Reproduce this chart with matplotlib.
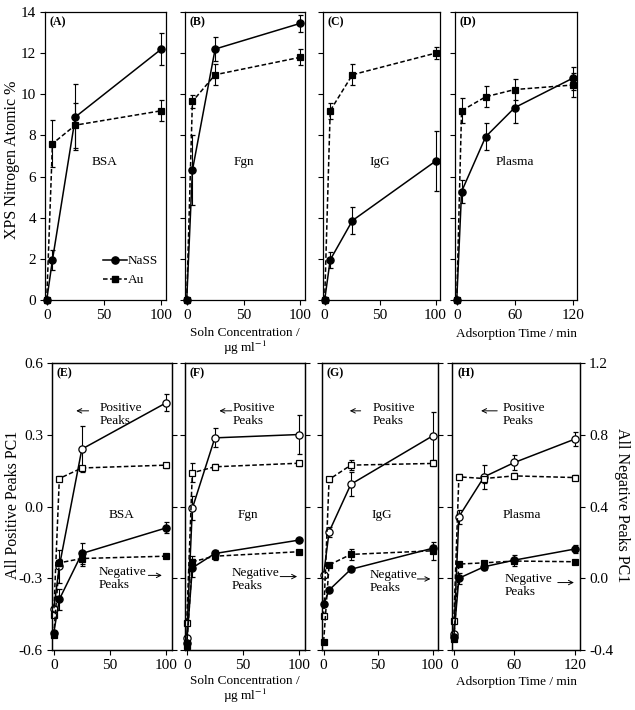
import matplotlib
matplotlib.use("Agg")
import matplotlib.pyplot as plt
from matplotlib.lines import Line2D

plt.rcParams['font.family'] = ['Liberation Serif', 'DejaVu Serif']
plt.rcParams['mathtext.fontset'] = 'stix'

# ---------------- data ----------------
conc = [0, 5, 25, 100]
time = [0, 5, 30, 60, 120]

# Top panels: XPS nitrogen atomic %
bsa_nass = [0, 1.95, 8.9, 12.2];   bsa_nass_err = [0, 0.5, 1.6, 0.8]
bsa_au = [0, 7.6, 8.5, 9.2];       bsa_au_err = [0, 1.15, 1.1, 0.5]
fgn_nass = [0, 6.3, 12.2, 13.45];  fgn_nass_err = [0, 1.7, 0.6, 0.4]
fgn_au = [0, 9.65, 10.95, 11.8];   fgn_au_err = [0, 0.3, 0.5, 0.4]
igg_nass = [0, 1.95, 3.86, 6.75];  igg_nass_err = [0, 0.4, 0.65, 1.45]
igg_au = [0, 9.2, 10.95, 12.0];    igg_au_err = [0, 0.4, 0.5, 0.3]
pla_nass = [0, 5.27, 7.94, 9.35, 10.78]; pla_nass_err = [0, 0.55, 0.65, 0.75, 0.55]
pla_au = [0, 9.2, 9.88, 10.23, 10.45];   pla_au_err = [0, 0.6, 0.5, 0.5, 0.6]

# Bottom panels: PC1 scores (positive peaks -> left axis, negative peaks -> right axis)
bsa_pos_nass = [-0.43, -0.25, 0.24, 0.434];   bsa_pos_nass_err = [0, 0.07, 0.096, 0.035]
bsa_pos_au = [-0.455, 0.117, 0.161, 0.173];   bsa_pos_au_err = [0, 0.01, 0.01, 0.01]
bsa_neg_nass = [-0.307, -0.118, 0.138, 0.281]; bsa_neg_nass_err = [0, 0.06, 0.06, 0.03]
bsa_neg_au = [-0.318, 0.086, 0.11, 0.123];    bsa_neg_au_err = [0, 0.02, 0.04, 0.01]

fgn_pos_nass = [-0.55, -0.008, 0.287, 0.301]; fgn_pos_nass_err = [0, 0.05, 0.04, 0.08]
fgn_pos_au = [-0.486, 0.141, 0.166, 0.181];   fgn_pos_au_err = [0, 0.04, 0.01, 0.01]
fgn_neg_nass = [-0.363, 0.058, 0.138, 0.213]; fgn_neg_nass_err = [0, 0.05, 0.02, 0.01]
fgn_neg_au = [-0.378, 0.092, 0.123, 0.148];   fgn_neg_au_err = [0, 0.03, 0.02, 0.01]

igg_pos_nass = [-0.285, -0.106, 0.093, 0.295]; igg_pos_nass_err = [0, 0.02, 0.05, 0.1]
igg_pos_au = [-0.458, 0.113, 0.173, 0.18];     igg_pos_au_err = [0, 0.01, 0.02, 0.01]
igg_neg_nass = [-0.145, -0.066, 0.05, 0.167];  igg_neg_nass_err = [0, 0.01, 0.01, 0.02]
igg_neg_au = [-0.353, 0.074, 0.133, 0.153];    igg_neg_au_err = [0, 0.01, 0.03, 0.05]

pla_pos_nass = [-0.535, -0.043, 0.124, 0.184, 0.282]; pla_pos_nass_err = [0, 0.03, 0.05, 0.03, 0.03]
pla_pos_au = [-0.479, 0.124, 0.117, 0.128, 0.121];    pla_pos_au_err = [0, 0.01, 0.02, 0.01, 0.01]
pla_neg_nass = [-0.326, 0.0, 0.064, 0.101, 0.163];    pla_neg_nass_err = [0, 0.03, 0.02, 0.03, 0.02]
pla_neg_au = [-0.34, 0.079, 0.086, 0.096, 0.092];     pla_neg_au_err = [0, 0.01, 0.01, 0.01, 0.01]

proteins = ['BSA', 'Fgn', 'IgG', 'Plasma']
top_letters = ['(A)', '(B)', '(C)', '(D)']
bot_letters = ['(E)', '(F)', '(G)', '(H)']

W, H = 635, 710
fig = plt.figure(figsize=(W / 100, H / 100), dpi=100)

def rect(l, r, t, b):
    return [l / W, 1 - b / H, (r - l) / W, (b - t) / H]

top_rects = [rect(45, 166, 12, 300), rect(185, 305, 12, 300),
             rect(323, 440, 12, 300), rect(455, 577, 12, 300)]
bot_rects = [rect(52, 172, 363, 650), rect(185, 305, 363, 650),
             rect(322, 438, 363, 650), rect(452, 580, 363, 650)]

TFS = 11     # tick labels
LFS = 11.5   # axis titles
AFS = 9.5    # annotations
lw = 1.1
MS = {'o': 5.2, 's': 4.5}
DASH = (0, (3, 1.6))

def style(ax):
    for s in ax.spines.values():
        s.set_linewidth(0.9)
    ax.tick_params(direction='out', length=3.5, width=0.8, labelsize=TFS, pad=3)

def series(ax, x, y, e, marker, ls, filled):
    ax.errorbar(x, y, yerr=e, color='black', lw=lw, ls=ls, marker=marker, ms=MS[marker],
                mfc='black' if filled else 'white', mec='black', mew=0.9,
                ecolor='black', elinewidth=0.8, capsize=1.8, capthick=0.8,
                clip_on=False, zorder=3)

ARROW = dict(arrowstyle='->', lw=0.7, color='black', shrinkA=0, shrinkB=0,
             mutation_scale=8)

top_data = [
    (conc, bsa_nass, bsa_nass_err, bsa_au, bsa_au_err),
    (conc, fgn_nass, fgn_nass_err, fgn_au, fgn_au_err),
    (conc, igg_nass, igg_nass_err, igg_au, igg_au_err),
    (time, pla_nass, pla_nass_err, pla_au, pla_au_err),
]
label_x = [50, 50, 50, 60]

for i, (x, yn, en, ya, ea) in enumerate(top_data):
    ax = fig.add_axes(top_rects[i])
    style(ax)
    series(ax, x, yn, en, 'o', '-', True)
    series(ax, x, ya, ea, 's', DASH, True)
    ax.set_ylim(0, 14)
    ax.set_yticks(range(0, 15, 2))
    if i < 3:
        ax.set_xlim(-1.5, 104)
        ax.set_xticks([0, 50, 100])
    else:
        ax.set_xlim(-1.8, 124.5)
        ax.set_xticks([0, 60, 120])
    if i > 0:
        ax.set_yticklabels([])
    ax.text(0.04, 0.985, top_letters[i], transform=ax.transAxes, ha='left', va='top',
            fontsize=8.5, fontweight='bold')
    ax.text(label_x[i], 6.7, proteins[i], ha='center', va='center', fontsize=AFS)
    if i == 0:
        hl = [Line2D([], [], color='black', lw=lw, marker='o', ms=MS['o']),
              Line2D([], [], color='black', lw=lw, ls=DASH, marker='s', ms=MS['s'])]
        ax.legend(hl, ['NaSS', 'Au'], loc='lower right', frameon=False, fontsize=AFS,
                  handlelength=1.8, handletextpad=0.1, borderaxespad=0.2,
                  labelspacing=0.5, bbox_to_anchor=(1.0, 0.02))

bot_data = [
    (conc, bsa_pos_nass, bsa_pos_nass_err, bsa_pos_au, bsa_pos_au_err,
     bsa_neg_nass, bsa_neg_nass_err, bsa_neg_au, bsa_neg_au_err),
    (conc, fgn_pos_nass, fgn_pos_nass_err, fgn_pos_au, fgn_pos_au_err,
     fgn_neg_nass, fgn_neg_nass_err, fgn_neg_au, fgn_neg_au_err),
    (conc, igg_pos_nass, igg_pos_nass_err, igg_pos_au, igg_pos_au_err,
     igg_neg_nass, igg_neg_nass_err, igg_neg_au, igg_neg_au_err),
    (time, pla_pos_nass, pla_pos_nass_err, pla_pos_au, pla_pos_au_err,
     pla_neg_nass, pla_neg_nass_err, pla_neg_au, pla_neg_au_err),
]
name_x = [60, 54, 53, 67]
pos_tx = [41, 41, 45, 48]
pos_arrow = [(31, 20), (40, 29), (34, 24), (43, 27)]
neg_tx = [40, 40, 42, 50]
neg_arrow = [(84, 96), (83, 98), (86, 98), (103, 119)]
neg_y = [-0.30, -0.305, -0.315, -0.33]

for i, d in enumerate(bot_data):
    x = d[0]
    ax = fig.add_axes(bot_rects[i])
    style(ax)
    ax2 = ax.twinx()
    style(ax2)
    series(ax, x, d[1], d[2], 'o', '-', False)
    series(ax, x, d[3], d[4], 's', DASH, False)
    series(ax2, x, d[5], d[6], 'o', '-', True)
    series(ax2, x, d[7], d[8], 's', DASH, True)
    ax.set_ylim(-0.6, 0.6)
    ax.set_yticks([-0.6, -0.3, 0.0, 0.3, 0.6])
    ax.set_yticklabels(['-0.6', '-0.3', '0.0', '0.3', '0.6'])
    ax2.set_ylim(-0.4, 1.2)
    ax2.set_yticks([-0.4, 0.0, 0.4, 0.8, 1.2])
    ax2.set_yticklabels(['-0.4', '0.0', '0.4', '0.8', '1.2'])
    if i > 0:
        ax.set_yticklabels([])
    if i < 3:
        ax2.set_yticklabels([])
        ax.set_xlim(-1.5, 105)
        ax.set_xticks([0, 50, 100])
    else:
        ax.set_xlim(-1.8, 125)
        ax.set_xticks([0, 60, 120])
    ax.text(0.04, 0.985, bot_letters[i], transform=ax.transAxes, ha='left', va='top',
            fontsize=8.5, fontweight='bold')
    ax.text(name_x[i], -0.035, proteins[i], ha='center', va='center', fontsize=AFS)
    ax.text(pos_tx[i], 0.385, 'Positive\nPeaks', ha='left', va='center', fontsize=AFS,
            linespacing=1.1)
    a0, a1 = pos_arrow[i]
    ax.annotate('', xy=(a1, 0.40), xytext=(a0, 0.40), arrowprops=ARROW)
    ax.text(neg_tx[i], neg_y[i], 'Negative\nPeaks', ha='left', va='center', fontsize=AFS,
            linespacing=1.1)
    b0, b1 = neg_arrow[i]
    ax.annotate('', xy=(b1, neg_y[i] + 0.012), xytext=(b0, neg_y[i] + 0.012),
                arrowprops=ARROW)

# axis titles
fig.text(12 / W, 1 - 160 / H, 'XPS Nitrogen Atomic %', rotation=90, ha='center', va='center', fontsize=LFS)
fig.text(13 / W, 1 - 505 / H, 'All Positive Peaks PC1', rotation=90, ha='center', va='center', fontsize=LFS)
fig.text(622 / W, 1 - 505 / H, 'All Negative Peaks PC1', rotation=270, ha='center', va='center', fontsize=LFS)
fig.text(245 / W, 1 - 333 / H, 'Soln Concentration /', ha='center', va='center', fontsize=AFS)
fig.text(245 / W, 1 - 348 / H, 'µg ml$^{-1}$', ha='center', va='center', fontsize=AFS)
fig.text(516 / W, 1 - 334 / H, 'Adsorption Time / min', ha='center', va='center', fontsize=AFS)
fig.text(245 / W, 1 - 681 / H, 'Soln Concentration /', ha='center', va='center', fontsize=AFS)
fig.text(245 / W, 1 - 696 / H, 'µg ml$^{-1}$', ha='center', va='center', fontsize=AFS)
fig.text(516 / W, 1 - 682 / H, 'Adsorption Time / min', ha='center', va='center', fontsize=AFS)

fig.savefig('out.png', dpi=100)
